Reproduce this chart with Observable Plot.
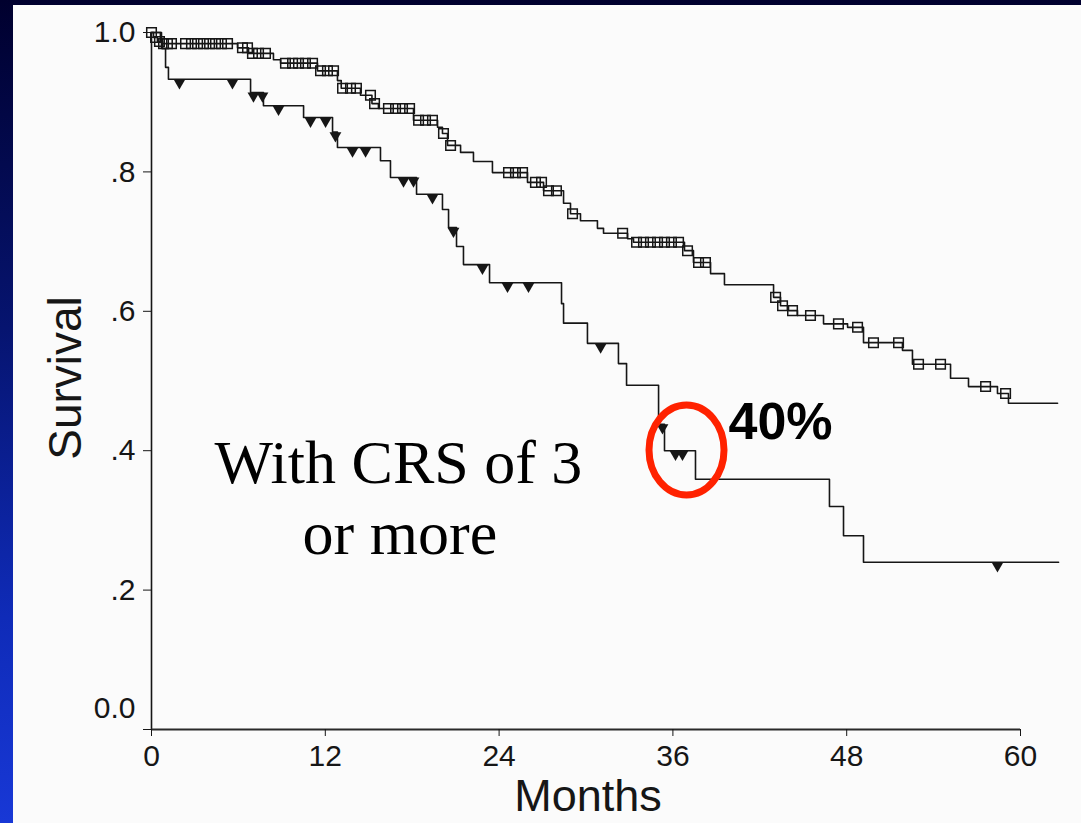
<!DOCTYPE html>
<html>
<head>
<meta charset="utf-8">
<script src="https://cdn.jsdelivr.net/npm/d3@7"></script>
<script src="https://cdn.jsdelivr.net/npm/@observablehq/plot@0.6"></script>
<style>
html, body { margin: 0; padding: 0; width: 1081px; height: 823px; overflow: hidden; }
body { position: relative; background: linear-gradient(to bottom, #00002e 0%, #061470 40%, #0f2bb8 75%, #1838d6 100%); }
#panel { position: absolute; left: 13px; top: 5px; right: 0; bottom: 0; background: #fbfbfb; }
#chart { position: absolute; left: 0; top: 0; }
</style>
</head>
<body>
<div id="panel"></div>
<div id="chart"></div>
<script>
// Kaplan-Meier steps [month, survival]
const upperSteps = [
  [0, 1.0], [0.14, 0.993], [0.41, 0.987], [0.76, 0.984], [5.94, 0.978], [6.70, 0.970],
  [8.42, 0.961], [8.91, 0.956], [11.46, 0.945], [12.84, 0.931], [13.10, 0.920], [14.43, 0.910],
  [15.22, 0.898], [15.67, 0.891], [18.09, 0.874], [19.75, 0.864], [20.09, 0.855], [20.44, 0.838],
  [21.34, 0.828], [22.23, 0.815], [23.54, 0.799], [25.96, 0.785], [27.07, 0.773], [28.45, 0.755],
  [28.93, 0.740], [29.62, 0.730], [30.79, 0.719], [31.21, 0.712], [32.87, 0.704], [33.28, 0.699],
  [36.80, 0.687], [37.42, 0.670], [38.60, 0.654], [39.56, 0.638], [42.95, 0.620], [43.43, 0.608],
  [43.98, 0.601], [44.60, 0.594], [46.40, 0.582], [48.06, 0.577], [49.16, 0.555], [51.85, 0.544],
  [52.54, 0.524], [55.17, 0.504], [56.41, 0.492], [58.41, 0.482], [59.17, 0.468], [62.56, 0.468]
];
const lowerSteps = [
  [0, 1.0], [0.69, 0.977], [0.97, 0.950], [1.17, 0.933], [6.84, 0.914], [7.73, 0.895],
  [10.50, 0.878], [12.50, 0.857], [12.84, 0.835], [15.81, 0.816], [16.50, 0.792], [18.30, 0.768],
  [20.09, 0.746], [20.51, 0.720], [21.06, 0.693], [21.54, 0.667], [23.34, 0.641], [28.31, 0.611],
  [28.45, 0.583], [30.10, 0.554], [32.24, 0.525], [32.80, 0.494], [35.01, 0.438], [35.42, 0.400],
  [37.56, 0.359], [46.81, 0.320], [47.78, 0.278], [49.16, 0.240], [62.63, 0.240]
];
// censoring times (months)
const upperCensored = [0, 0.28, 0.55, 0.83, 1.10, 1.38, 2.35, 2.76, 3.18, 3.59, 4.01, 4.42, 4.83, 5.25,
  6.28, 6.63, 6.97, 7.39, 7.87, 9.25, 9.74, 10.15, 10.63, 11.12, 11.67, 12.15, 12.57, 13.19, 13.74,
  14.15, 15.12, 15.40, 16.36, 16.85, 17.33, 17.82, 18.44, 18.92, 19.40, 20.16, 20.65, 24.65, 25.13,
  25.62, 26.51, 26.93, 27.41, 27.96, 29.07, 32.53, 33.49, 33.97, 34.45, 34.94, 35.42, 35.90, 36.39,
  37.01, 37.77, 38.25, 43.09, 43.57, 44.26, 45.50, 47.43, 48.75, 49.85, 51.58, 52.96, 54.48, 57.59, 58.97];
const lowerCensored = [1.93, 5.59, 7.04, 7.66, 8.77, 10.98, 12.02, 12.70, 13.88, 14.78, 17.40, 18.09,
  19.40, 20.85, 22.85, 24.58, 26.03, 31.01, 35.28, 36.18, 36.66, 58.41];

const xTickValues = [0, 12, 24, 36, 48, 60];
const yTickValues = [0, 0.2, 0.4, 0.6, 0.8, 1.0];
const yTickLabels = ["", ".2", ".4", ".6", ".8", "1.0"];
const yZeroLabel = "0.0";
const xLabel = "Months";
const yLabel = "Survival";
const groupNote = ["With CRS of 3", "or more"];
const highlightLabel = "40%";

const toRows = steps => steps.map(([t, s]) => ({t, s}));
const survAt = (steps, t) => { let s = steps[0][1]; for (const [ti, si] of steps) { if (ti <= t) s = si; } return s; };
const censorRows = (steps, times) => times.map(t => ({t, s: survAt(steps, t)}));

const ellipse = {
  draw(ctx) {
    const rx = 37.5, ry = 45, k = 0.5523;
    ctx.moveTo(rx, 0);
    ctx.bezierCurveTo(rx, ry * k, rx * k, ry, 0, ry);
    ctx.bezierCurveTo(-rx * k, ry, -rx, ry * k, -rx, 0);
    ctx.bezierCurveTo(-rx, -ry * k, -rx * k, -ry, 0, -ry);
    ctx.bezierCurveTo(rx * k, -ry, rx, -ry * k, rx, 0);
    ctx.closePath();
  }
};

const ink = "#161616";
const chart = Plot.plot({
  width: 1081, height: 823,
  marginLeft: 151, marginRight: 61, marginTop: 32, marginBottom: 94,
  style: { background: "transparent", fontFamily: "'Liberation Sans', Arial, sans-serif", color: ink, overflow: "visible" },
  x: { domain: [0, 60] },
  y: { domain: [0, 1] },
  marks: [
    Plot.ruleX([0], { y1: 0, y2: 1, stroke: ink, strokeWidth: 1.6 }),
    Plot.ruleY([0], { x1: 0, x2: 60, stroke: "#2a2a2a", strokeWidth: 2.2 }),
    Plot.axisY({ ticks: yTickValues, tickFormat: d => yTickLabels[yTickValues.indexOf(d)], tickSize: 8, tickPadding: 8, fontSize: 30, label: null, color: ink }),
    Plot.axisX({ ticks: xTickValues, tickSize: 7, tickPadding: 8, fontSize: 30, label: null, color: ink }),
    Plot.text([yZeroLabel], { text: d => d, frameAnchor: "bottom-left", dx: -16, dy: -21, textAnchor: "end", lineAnchor: "middle", fontSize: 30, fill: ink }),
    Plot.text([yLabel], { text: d => d, frameAnchor: "left", dx: -85, dy: -3, rotate: -90, textAnchor: "middle", lineAnchor: "middle", fontSize: 46, fill: ink }),
    Plot.text([xLabel], { text: d => d, frameAnchor: "bottom", dx: 2, dy: 67, textAnchor: "middle", lineAnchor: "middle", fontSize: 45, fill: ink }),
    Plot.line(toRows(upperSteps), { x: "t", y: "s", curve: "step-after", stroke: ink, strokeWidth: 1.6 }),
    Plot.line(toRows(lowerSteps), { x: "t", y: "s", curve: "step-after", stroke: ink, strokeWidth: 1.6 }),
    Plot.dot(censorRows(upperSteps, upperCensored), { x: "t", y: "s", symbol: "square", r: 5.4, fill: "none", stroke: ink, strokeWidth: 1.5 }),
    Plot.dot(censorRows(lowerSteps, lowerCensored), { x: "t", y: "s", symbol: "triangle", rotate: 180, r: 4.4, dy: 3.5, fill: ink, stroke: "none" }),
    Plot.text([groupNote[0]], { text: d => d, x: () => 17.05, y: () => 0.3828, fontSize: 62, fontFamily: "'Liberation Serif', 'Times New Roman', serif", fill: "#000" }),
    Plot.text([groupNote[1]], { text: d => d, x: () => 17.15, y: () => 0.2809, fontSize: 62, fontFamily: "'Liberation Serif', 'Times New Roman', serif", fill: "#000" }),
    Plot.dot([{ t: 36.94, s: 0.401 }], { x: "t", y: "s", symbol: ellipse, r: 10, fill: "none", stroke: "#ff2200", strokeWidth: 7 }),
    Plot.text([highlightLabel], { text: d => d, x: () => 43.43, y: () => 0.4413, fontSize: 52, fontWeight: "bold", fill: "#000" })
  ]
});
document.getElementById("chart").appendChild(chart);
</script>
</body>
</html>
